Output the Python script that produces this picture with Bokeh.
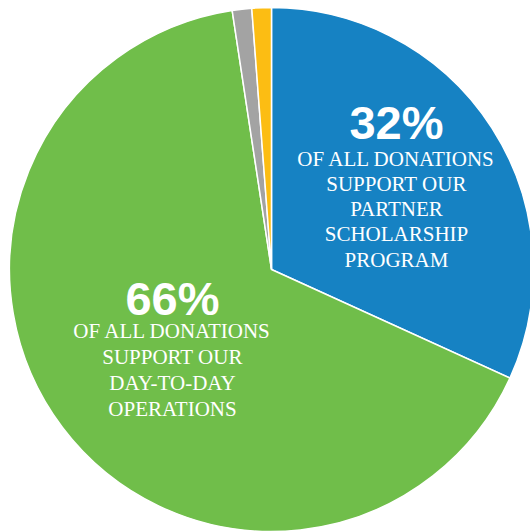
import numpy as np
from bokeh.plotting import figure
from bokeh.models import Range1d
from bokeh.core.properties import value
from bokeh.embed import file_html
from bokeh.resources import INLINE

# Data (shares)
categories = ["Partner Scholarship Program", "Day-to-Day Operations", "Other A", "Other B"]
shares = [31.8, 65.8, 1.2, 1.2]
colors = ["#1682C3", "#70BE4A", "#A3A3A3", "#FCBD13"]

blue_pct = "32%"
blue_lines = ["OF ALL DONATIONS", "SUPPORT OUR", "PARTNER", "SCHOLARSHIP", "PROGRAM"]
green_pct = "66%"
green_lines = ["OF ALL DONATIONS", "SUPPORT OUR", "DAY-TO-DAY", "OPERATIONS"]

W, H = 530, 531
p = figure(width=W, height=H, output_backend="svg", toolbar_location=None,
           x_range=Range1d(0, W), y_range=Range1d(0, H), min_border=0,
           outline_line_color=None, background_fill_color="white",
           border_fill_color="white")
p.axis.visible = False
p.xgrid.visible = False
p.ygrid.visible = False

vals = np.array(shares, dtype=float)
cum = np.concatenate([[0], np.cumsum(vals)]) / vals.sum()
start = np.pi / 2 - 2 * np.pi * cum[:-1]
end = np.pi / 2 - 2 * np.pi * cum[1:]

cx, cy, r = 271, 262, 262
p.wedge(x=[cx] * len(vals), y=[cy] * len(vals), radius=r,
        start_angle=list(start), end_angle=list(end), direction="clock",
        fill_color=colors, line_color="white", line_width=1.5)

# Blue labels
p.text(x=[396], y=[409], text=[blue_pct], text_font=value("Liberation Sans"),
       text_font_style="bold", text_font_size="47px", text_color="white",
       text_align="center", text_baseline="alphabetic")
p.text(x=[396] * len(blue_lines), y=[373 - 25.3 * i for i in range(len(blue_lines))],
       text=blue_lines, text_font=value("Liberation Serif"), text_font_size="21px",
       text_color="white", text_align="center", text_baseline="alphabetic")

# Green labels
p.text(x=[172], y=[233], text=[green_pct], text_font=value("Liberation Sans"),
       text_font_style="bold", text_font_size="47px", text_color="white",
       text_align="center", text_baseline="alphabetic")
p.text(x=[172] * len(green_lines), y=[200.5 - 26.1 * i for i in range(len(green_lines))],
       text=green_lines, text_font=value("Liberation Serif"), text_font_size="21px",
       text_color="white", text_align="center", text_baseline="alphabetic")

open("out.html", "w").write(file_html(p, INLINE))
